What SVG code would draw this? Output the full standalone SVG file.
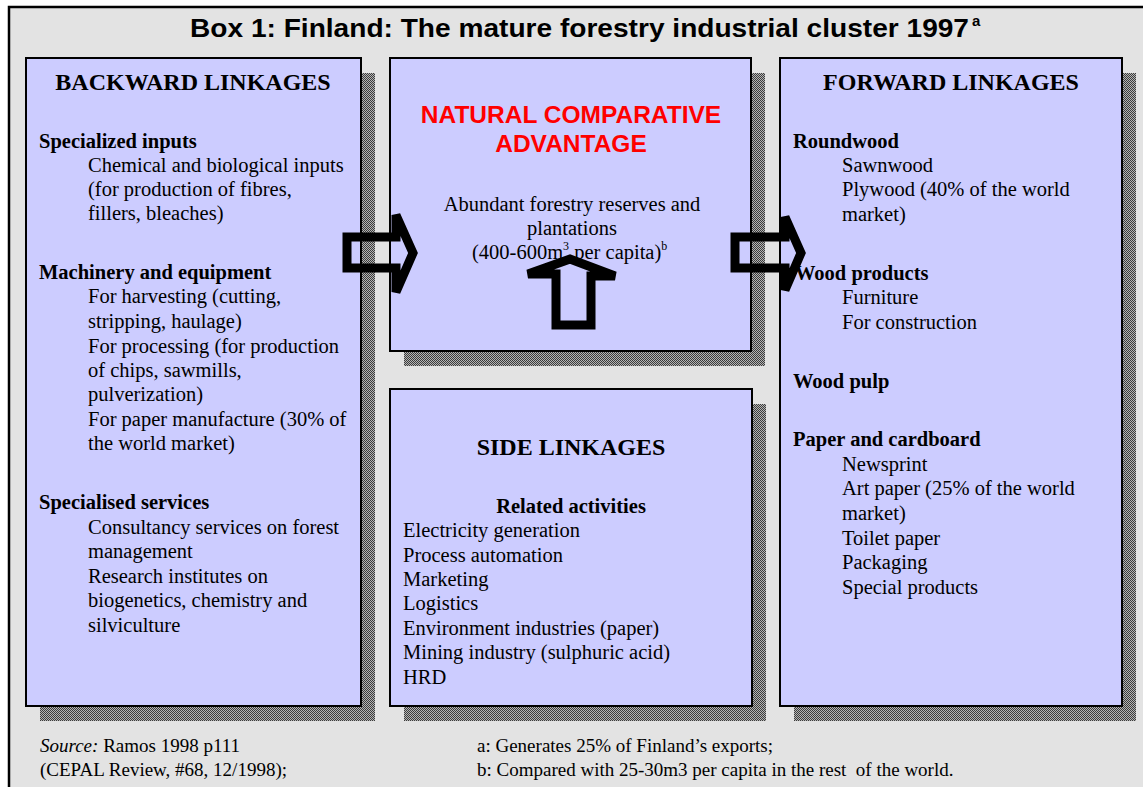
<svg xmlns="http://www.w3.org/2000/svg" width="1143" height="787" viewBox="0 0 1143 787">
<defs>
<pattern id="dither" width="2" height="2" patternUnits="userSpaceOnUse">
<rect width="2" height="2" fill="#b4b4b4"/>
<rect width="1" height="1" fill="#3c3c3c"/>
<rect x="1" y="1" width="1" height="1" fill="#3c3c3c"/>
</pattern>
</defs>
<style>
.shadow{fill:url(#dither);}
.box{fill:#ccccff;stroke:#000;stroke-width:2;}
.hdr{font-family:"Liberation Serif","Times New Roman",serif;font-weight:bold;font-size:24px;text-anchor:middle;fill:#000;}
.sub{font-family:"Liberation Serif","Times New Roman",serif;font-weight:bold;font-size:20.5px;fill:#000;}
.t{font-family:"Liberation Serif","Times New Roman",serif;font-size:20.5px;fill:#000;}
.c{text-anchor:middle;}
.red{font-family:"Liberation Sans",Arial,sans-serif;font-weight:bold;font-size:24.5px;fill:#ff0000;text-anchor:middle;}
.foot{font-family:"Liberation Serif","Times New Roman",serif;font-size:19px;fill:#000;white-space:pre;}
.arrow{fill:none;stroke:#000;stroke-width:9;stroke-linejoin:miter;stroke-miterlimit:2;}
</style>
<rect x="0" y="0" width="1143" height="787" fill="#ffffff"/>
<g id="frame">
<rect x="9" y="7" width="1150" height="800" fill="#e3e3e3" stroke="#000" stroke-width="2.5"/>
</g>
<g id="title">
<text x="190" y="37" font-family="'Liberation Sans',Arial,sans-serif" font-weight="bold" font-size="26" textLength="779" lengthAdjust="spacingAndGlyphs" fill="#000">Box 1: Finland: The mature forestry industrial cluster 1997</text>
<text x="972" y="26" font-family="'Liberation Sans',Arial,sans-serif" font-weight="bold" font-size="15" fill="#000">a</text>
</g>
<g id="node-backward">
<rect class="shadow" x="40" y="73" width="335" height="648"/>
<rect class="box" x="26" y="58" width="335" height="648"/>
<text class="hdr" x="193" y="90">BACKWARD LINKAGES</text>
<text class="sub" x="39" y="148">Specialized inputs</text>
<text class="t" x="88" y="172">Chemical and biological inputs</text>
<text class="t" x="88" y="196">(for production of fibres,</text>
<text class="t" x="88" y="220">fillers, bleaches)</text>
<text class="sub" x="39" y="279">Machinery and equipment</text>
<text class="t" x="88" y="303">For harvesting (cutting,</text>
<text class="t" x="88" y="328">stripping, haulage)</text>
<text class="t" x="88" y="353">For processing (for production</text>
<text class="t" x="88" y="377">of chips, sawmills,</text>
<text class="t" x="88" y="401">pulverization)</text>
<text class="t" x="88" y="426">For paper manufacture (30% of</text>
<text class="t" x="88" y="450">the world market)</text>
<text class="sub" x="39" y="509">Specialised services</text>
<text class="t" x="88" y="534">Consultancy services on forest</text>
<text class="t" x="88" y="558">management</text>
<text class="t" x="88" y="583">Research institutes on</text>
<text class="t" x="88" y="607">biogenetics, chemistry and</text>
<text class="t" x="88" y="632">silviculture</text>
</g>
<g id="node-natural">
<rect class="shadow" x="404" y="73" width="361" height="293"/>
<rect class="box" x="390" y="58" width="361" height="293"/>
<text class="red" x="571" y="123">NATURAL COMPARATIVE</text>
<text class="red" x="571" y="152">ADVANTAGE</text>
<text class="t c" x="572" y="211">Abundant forestry reserves and</text>
<text class="t c" x="572" y="235">plantations</text>
<text class="t" x="472" y="259">(400-600m<tspan font-size="12" dy="-9">3</tspan><tspan dy="9"> per capita)</tspan><tspan font-size="12" dy="-9">b</tspan></text>
</g>
<g id="node-side">
<rect class="shadow" x="404" y="404" width="362" height="317"/>
<rect class="box" x="390" y="389" width="362" height="317"/>
<text class="hdr" x="571" y="455">SIDE LINKAGES</text>
<text class="sub c" x="571" y="513">Related activities</text>
<text class="t" x="403" y="537">Electricity generation</text>
<text class="t" x="403" y="562">Process automation</text>
<text class="t" x="403" y="586">Marketing</text>
<text class="t" x="403" y="610">Logistics</text>
<text class="t" x="403" y="635">Environment industries (paper)</text>
<text class="t" x="403" y="659">Mining industry (sulphuric acid)</text>
<text class="t" x="403" y="684">HRD</text>
</g>
<g id="node-forward">
<rect class="shadow" x="794" y="73" width="342" height="648"/>
<rect class="box" x="780" y="58" width="342" height="648"/>
<text class="hdr" x="951" y="90">FORWARD LINKAGES</text>
<text class="sub" x="793" y="148">Roundwood</text>
<text class="t" x="842" y="172">Sawnwood</text>
<text class="t" x="842" y="196">Plywood (40% of the world</text>
<text class="t" x="842" y="221">market)</text>
<text class="sub" x="795" y="280">Wood products</text>
<text class="t" x="842" y="304">Furniture</text>
<text class="t" x="842" y="329">For construction</text>
<text class="sub" x="793" y="388">Wood pulp</text>
<text class="sub" x="793" y="446">Paper and cardboard</text>
<text class="t" x="842" y="471">Newsprint</text>
<text class="t" x="842" y="495">Art paper (25% of the world</text>
<text class="t" x="842" y="520">market)</text>
<text class="t" x="842" y="545">Toilet paper</text>
<text class="t" x="842" y="569">Packaging</text>
<text class="t" x="842" y="594">Special products</text>
</g>
<g id="connectors">
<polygon class="arrow" points="347,237 396,237 396,215 413,253 396,292 396,268 347,268"/>
<polygon class="arrow" points="735,237 785,237 785,217 801,253 785,290 785,268 735,268"/>
<polygon class="arrow" points="556,325 591,325 591,276 615,276 570,259 528,274 556,274"/>
</g>
<g id="footer">
<text class="foot" x="40" y="752"><tspan font-style="italic">Source:</tspan> Ramos 1998 p111</text>
<text class="foot" x="40" y="776">(CEPAL Review, #68, 12/1998);</text>
<text class="foot" x="477" y="752">a: Generates 25% of Finland’s exports;</text>
<text class="foot" x="477" y="776">b: Compared with 25-30m3 per capita in the rest  of the world.</text>
</g>
</svg>
